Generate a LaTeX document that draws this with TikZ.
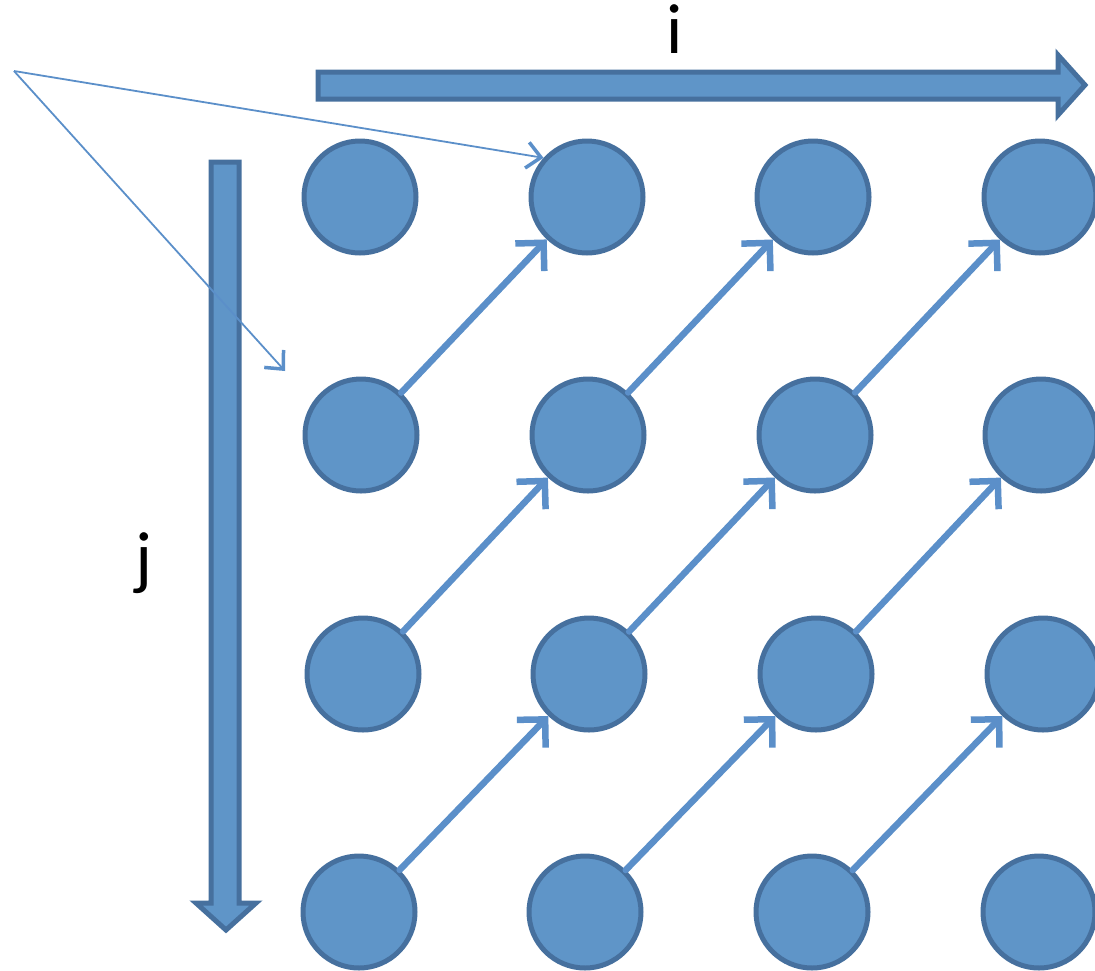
\documentclass[tikz,border=0pt]{standalone}
\usepackage{fontspec}
\setmainfont{Carlito}
\usetikzlibrary{arrows.meta}
\definecolor{cfill}{HTML}{5F95C8}
\definecolor{cline}{HTML}{46709E}
\definecolor{carrow}{HTML}{5B8FC9}
\tikzset{
  dot/.style={circle, minimum size=112pt, inner sep=0pt, fill=cfill, draw=cline, line width=5pt},
  blockarrow/.style={fill=cfill, draw=cline, line width=5pt, line join=miter},
  flow/.style={draw=carrow, line width=6.5pt, line cap=round, -{Straight Barb[length=20pt,width=40pt,line width=6.5pt]}},
  pointer/.style={draw=carrow, line width=1.8pt, -{Straight Barb[length=14pt,width=26pt,line width=3.5pt]}},
  lbl/.style={font=\fontsize{71}{84}\selectfont, inner sep=0pt, anchor=base}
}
\begin{document}
\begin{tikzpicture}[x=1pt,y=-1pt]
\useasboundingbox (0,0) rectangle (1095,970);
% block arrows
\draw[blockarrow] (318,72) -- (1058,72) -- (1058,55) -- (1085,85) -- (1058,115) -- (1058,99) -- (318,99) -- cycle;
\draw[blockarrow] (211,162) -- (239,162) -- (239,903) -- (256,903) -- (226,930) -- (196,903) -- (211,903) -- cycle;
\node[lbl] (li) at (675,53) {i};
\node[lbl] (lj) at (144,581) {j};
% circles
\node[dot] (c11) at (360,197) {};
\node[dot] (c12) at (587,197) {};
\node[dot] (c13) at (813,197) {};
\node[dot] (c14) at (1040,197) {};
\node[dot] (c21) at (361,435) {};
\node[dot] (c22) at (588,435) {};
\node[dot] (c23) at (815,435) {};
\node[dot] (c24) at (1041,435) {};
\node[dot] (c31) at (363,674) {};
\node[dot] (c32) at (589,674) {};
\node[dot] (c33) at (816,674) {};
\node[dot] (c34) at (1043,674) {};
\node[dot] (c41) at (359,912) {};
\node[dot] (c42) at (585,912) {};
\node[dot] (c43) at (812,912) {};
\node[dot] (c44) at (1039,912) {};
% diagonal arrows
\draw[flow] (c21) -- (c12);
\draw[flow] (c22) -- (c13);
\draw[flow] (c23) -- (c14);
\draw[flow] (c31) -- (c22);
\draw[flow] (c32) -- (c23);
\draw[flow] (c33) -- (c24);
\draw[flow] (c41) -- (c32);
\draw[flow] (c42) -- (c33);
\draw[flow] (c43) -- (c34);
% pointer lines
\coordinate (o) at (14,71);
\coordinate (t) at (285,371);
\draw[pointer] (o) -- (c12.138);
\draw[pointer] (o) -- (t);
\end{tikzpicture}
\end{document}
